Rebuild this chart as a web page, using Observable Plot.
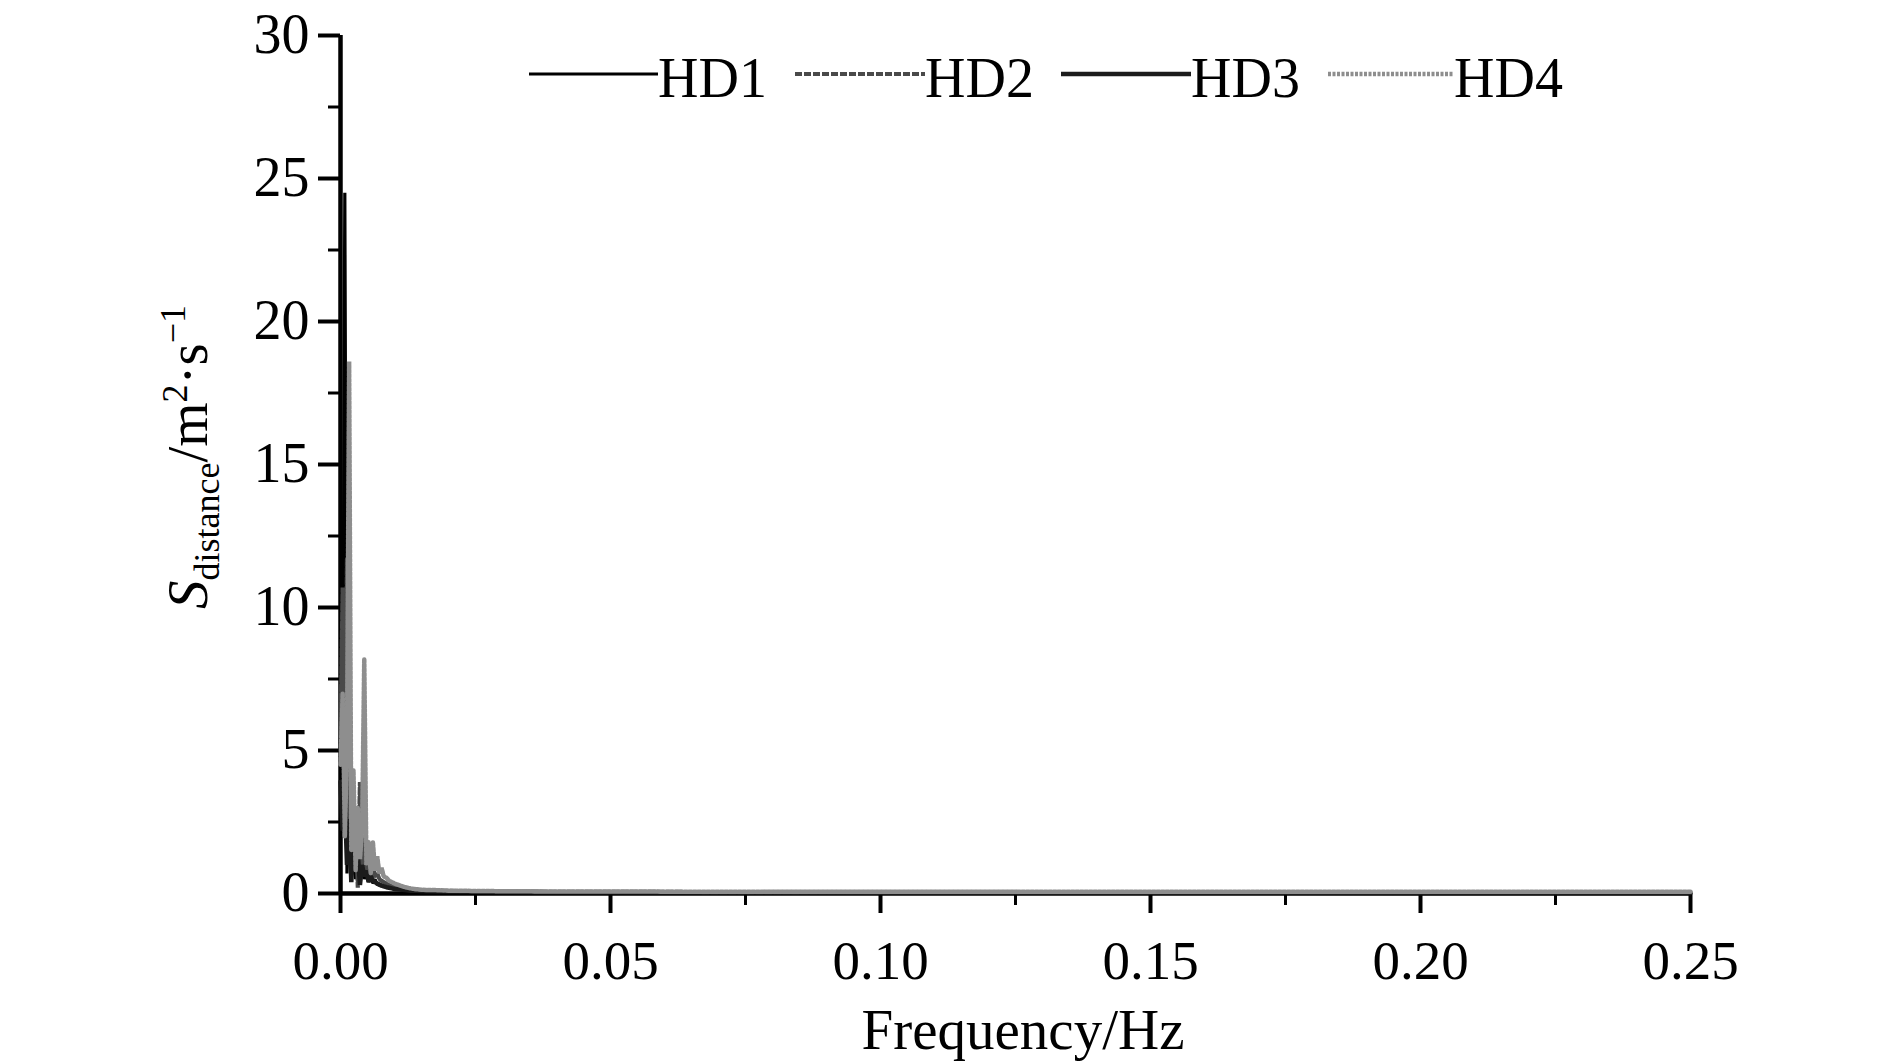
<!DOCTYPE html>
<html><head><meta charset="utf-8">
<script src="https://cdn.jsdelivr.net/npm/d3@7"></script>
<script src="https://cdn.jsdelivr.net/npm/@observablehq/plot@0.6"></script>
<style>
body{margin:0;background:#fff;}
#wrap{position:relative;width:1890px;height:1064px;}
</style></head><body><div id="wrap"></div>
<script>
// Frequency grid (Hz)
const freq = [0, 0.0004, 0.0008, 0.0012, 0.0016, 0.002, 0.0024, 0.0028, 0.0032, 0.0036, 0.004, 0.0044, 0.0048, 0.0052, 0.0056, 0.006, 0.0064, 0.0068, 0.0072, 0.0076, 0.008, 0.0085, 0.009, 0.0095, 0.010, 0.011, 0.012, 0.013, 0.014, 0.015, 0.0175, 0.02, 0.025, 0.03, 0.04, 0.05, 0.07, 0.1, 0.13, 0.16, 0.2, 0.25];
const hd1 = [2.6, 4.0, 24.5, 0.7, 3.0, 1.2, 2.4, 0.5, 1.6, 0.6, 1.2, 0.5, 0.9, 0.4, 0.7, 0.35, 0.5, 0.3, 0.35, 0.25, 0.28, 0.22, 0.2, 0.18, 0.16, 0.14, 0.12, 0.11, 0.1, 0.09, 0.08, 0.07, 0.06, 0.05, 0.04, 0.04, 0.03, 0.03, 0.02, 0.02, 0.02, 0.02];
const hd2 = [5.5, 10.7, 2.5, 11.7, 1.5, 4.2, 0.9, 2.8, 0.2, 3.9, 0.8, 2.0, 0.6, 1.4, 0.5, 1.0, 0.6, 0.7, 0.5, 0.45, 0.4, 0.35, 0.3, 0.26, 0.22, 0.18, 0.15, 0.13, 0.12, 0.11, 0.1, 0.09, 0.08, 0.07, 0.06, 0.06, 0.05, 0.05, 0.05, 0.05, 0.05, 0.05];
const hd3 = [3.9, 2.2, 3.4, 1.0, 2.6, 0.4, 1.8, 0.8, 1.4, 0.3, 1.0, 0.6, 0.8, 0.4, 0.6, 0.45, 0.4, 0.35, 0.3, 0.28, 0.25, 0.22, 0.2, 0.18, 0.16, 0.14, 0.12, 0.1, 0.1, 0.09, 0.08, 0.07, 0.06, 0.05, 0.045, 0.04, 0.035, 0.03, 0.03, 0.025, 0.02, 0.02];
const hd4 = [4.5, 7.0, 2.0, 5.0, 18.6, 1.5, 4.3, 0.8, 3.0, 1.2, 2.2, 8.2, 1.0, 1.8, 0.7, 1.8, 0.8, 1.3, 0.7, 0.9, 0.6, 0.55, 0.45, 0.4, 0.35, 0.28, 0.22, 0.18, 0.15, 0.13, 0.12, 0.1, 0.09, 0.08, 0.07, 0.07, 0.06, 0.06, 0.06, 0.06, 0.06, 0.06];

const seriesNames = ["HD1", "HD2", "HD3", "HD4"];
const seriesValues = [hd1, hd2, hd3, hd4];
const xMajor = [0, 0.05, 0.10, 0.15, 0.20, 0.25];
const xMinor = [0.025, 0.075, 0.125, 0.175, 0.225];
const yMajor = [0, 5, 10, 15, 20, 25, 30];
const yMinor = [2.5, 7.5, 12.5, 17.5, 22.5, 27.5];

const styles = {
  HD1: {stroke: "#000", strokeWidth: 3.2, dash: null},
  HD2: {stroke: "#4a4a4a", strokeWidth: 4.2, dash: "7,2"},
  HD3: {stroke: "#1c1c1c", strokeWidth: 4.5, dash: null},
  HD4: {stroke: "#8e8e8e", strokeWidth: 4.5, dash: "3,1.5"}
};

const table = seriesNames.map((name, i) => freq.map((f, j) => ({series: name, f, v: seriesValues[i][j]})));

const font = "'Liberation Serif','Times New Roman',serif";

const lineMarks = seriesNames.map((name, i) => Plot.line(table[i], {
  x: "f", y: "v", stroke: styles[name].stroke, strokeWidth: styles[name].strokeWidth,
  strokeDasharray: styles[name].dash, strokeLinejoin: "miter", curve: "linear"
}));

const chart = Plot.plot({
  width: 1890, height: 1064,
  marginLeft: 340, marginRight: 200, marginTop: 35, marginBottom: 171,
  style: {fontFamily: font, fontSize: "55px", color: "#000", background: "#fff"},
  x: {domain: [0, 0.25]},
  y: {domain: [0, 30]},
  marks: [
    Plot.axisY(yMinor, {tickSize: 12, strokeWidth: 3, tickFormat: () => "", label: null}),
    Plot.axisY(yMajor, {tickSize: 22, tickPadding: 9, strokeWidth: 4, tickFormat: d => String(d), label: null, fontSize: 56}),
    Plot.axisX(xMinor, {tickSize: 12, strokeWidth: 3, tickFormat: () => "", label: null}),
    Plot.axisX(xMajor, {tickSize: 20, tickPadding: 26, strokeWidth: 4, tickFormat: d3.format(".2f"), label: null, fontSize: 55}),
    Plot.ruleX([0], {strokeWidth: 4.5, stroke: "#000"}),
    Plot.ruleY([0], {strokeWidth: 4.5, stroke: "#000"}),
    ...lineMarks
  ]
});

document.getElementById("wrap").appendChild(chart);

const svg = d3.select(chart);

// x axis title
svg.append("text")
  .attr("x", 1023).attr("y", 1049)
  .attr("text-anchor", "middle")
  .style("font-family", font).style("font-size", "57px")
  .text("Frequency/Hz");

// y axis title
const yt = svg.append("text")
  .attr("transform", "translate(207,457) rotate(-90)")
  .attr("text-anchor", "middle")
  .style("font-family", font).style("font-size", "57px");
yt.append("tspan").style("font-style", "italic").text("S");
yt.append("tspan").attr("dy", "12").style("font-size", "36px").text("distance");
yt.append("tspan").attr("dy", "-12").text("/m");
yt.append("tspan").attr("dy", "-20").style("font-size", "36px").text("2");
yt.append("tspan").attr("dy", "20").text("·s");
yt.append("tspan").attr("dy", "-22").style("font-size", "36px").text("−1");

// legend
const legendPos = [
  {name: "HD1", x1: 529, x2: 658},
  {name: "HD2", x1: 795, x2: 925},
  {name: "HD3", x1: 1061, x2: 1191},
  {name: "HD4", x1: 1328, x2: 1454}
];
const lg = svg.append("g");
legendPos.forEach(d => {
  const s = styles[d.name];
  lg.append("line").attr("x1", d.x1).attr("x2", d.x2).attr("y1", 74).attr("y2", 74)
    .attr("stroke", s.stroke).attr("stroke-width", s.strokeWidth)
    .attr("stroke-dasharray", s.dash);
  lg.append("text").attr("x", d.x2).attr("y", 97)
    .attr("text-anchor", "start")
    .style("font-family", font).style("font-size", "56px").text(d.name);
});
</script>
</body></html>
